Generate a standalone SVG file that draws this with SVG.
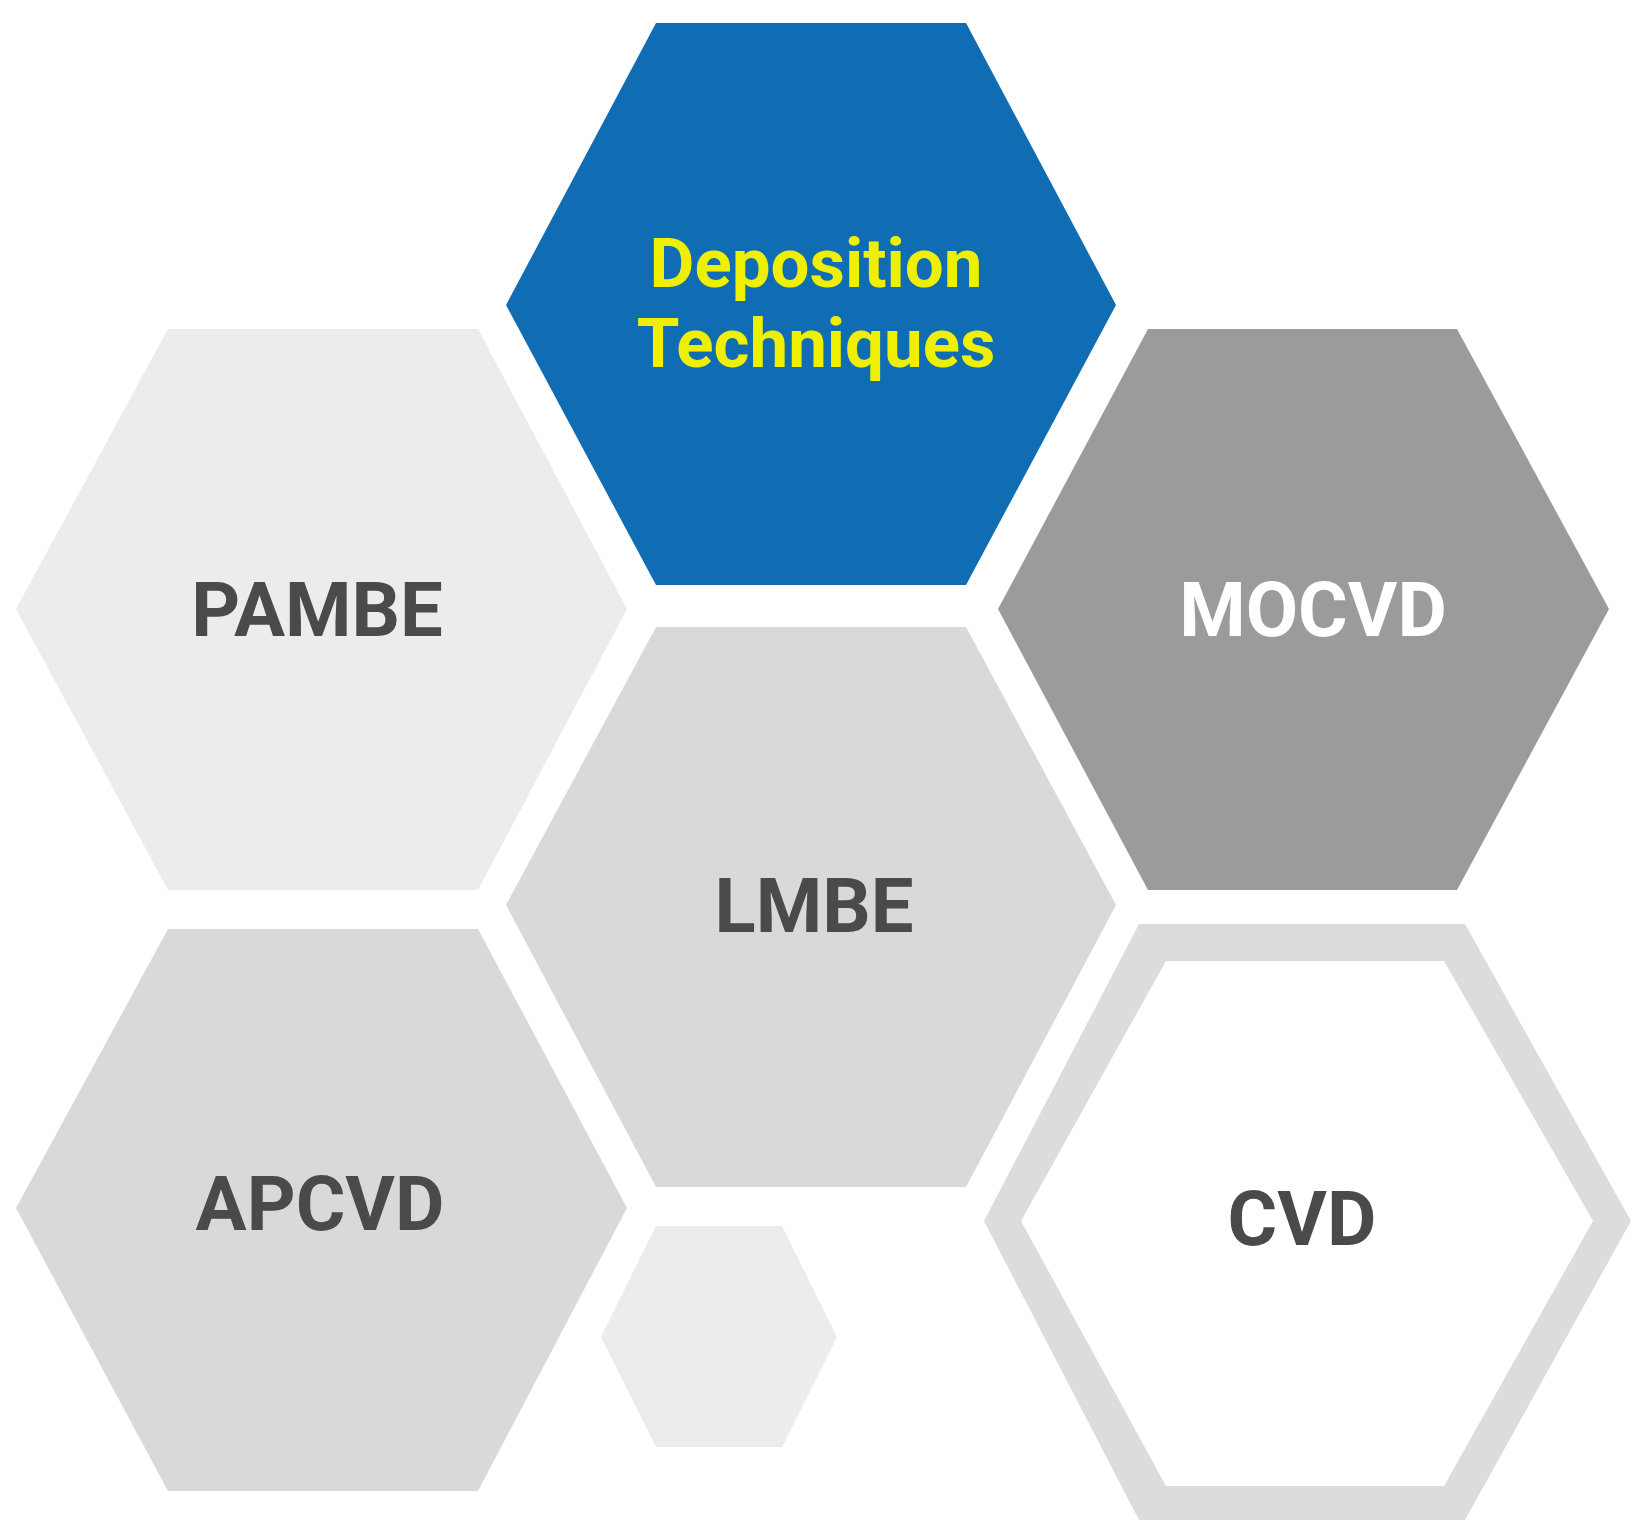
<svg xmlns="http://www.w3.org/2000/svg" width="1637" height="1536" viewBox="0 0 1637 1536">
<style>
text{font-family:Roboto,"Liberation Sans",sans-serif;font-weight:bold;text-anchor:middle}
.lbl{font-size:76px;fill:#4a4a4a}
</style>
<rect width="1637" height="1536" fill="#fff"/>
<g id="deposition"><polygon points="506,305 656,23 966,23 1116,305 966,585 656,585" fill="#106db3"/>
<text x="816" y="287" font-size="69" fill="#eef000">Deposition</text><text x="816" y="367" font-size="69" fill="#eef000">Techniques</text></g>
<g id="pambe"><polygon points="16,609 168,329 478,329 627,609 478,890 168,890" fill="#ececec"/><text class="lbl" x="317" y="636">PAMBE</text></g>
<g id="mocvd"><polygon points="998,609 1148,329 1457,329 1609,609 1457,890 1148,890" fill="#9b9b9b"/><text class="lbl" x="1313" y="636" style="fill:#fff">MOCVD</text></g>
<g id="lmbe"><polygon points="506,905 656,627 966,627 1116,905 966,1187 656,1187" fill="#d9d9d9"/><text class="lbl" x="814" y="932">LMBE</text></g>
<g id="apcvd"><polygon points="16,1208 168,929 478,929 627,1208 478,1491 168,1491" fill="#d9d9d9"/><text class="lbl" x="320" y="1230">APCVD</text></g>
<g id="small"><polygon points="601,1337 656,1226 782,1226 837,1337 782,1447 656,1447" fill="#ececec"/></g>
<g id="cvd"><polygon points="984,1221 1139,924 1465,924 1631,1221 1465,1520 1139,1520" fill="#dcdcdc"/>
<polygon points="1021,1221 1166,961 1444,961 1593,1221 1444,1486 1166,1486" fill="#fff"/><text class="lbl" x="1302" y="1245">CVD</text></g>
<g id="connectors"/>
</svg>
